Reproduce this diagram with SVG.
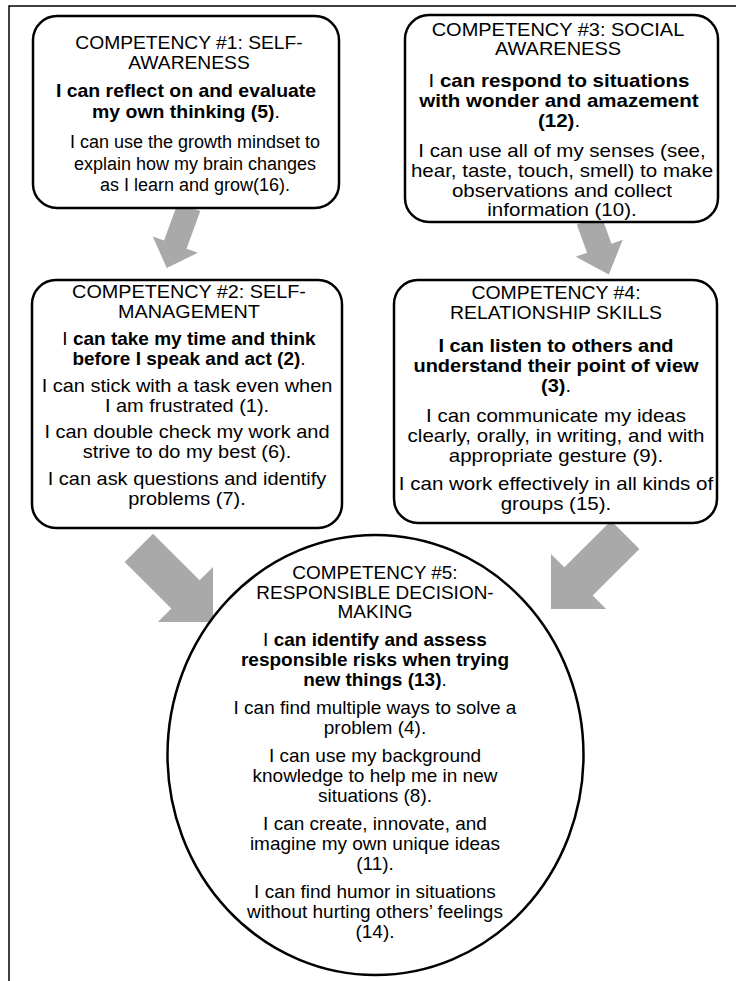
<svg xmlns="http://www.w3.org/2000/svg" width="736" height="981" viewBox="0 0 736 981">
  <style>
    .frame { fill: none; stroke: #000; stroke-width: 1.5; }
    .box { fill: #fff; stroke: #000; stroke-width: 2.5; }
    .arrow { fill: #a9a9a9; stroke: none; }
    text { font-family: "Liberation Sans", Arial, sans-serif; font-size: 18px; fill: #000; text-anchor: middle; }
    .b { font-weight: bold; }
    .r { font-weight: normal; }
  </style>
  <defs>
    <!-- block arrows, pointing along +x from the origin -->
    <polygon id="arrowSmall" points="0,-12 40,-12 40,-24 65,0 40,24 40,12 0,12"/>
    <polygon id="arrowMid" points="0,-13 30,-13 30,-25 58,0 30,25 30,13 0,13"/>
    <polygon id="arrowBig" points="0,-20 66,-20 66,-39 105,0 66,39 66,20 0,20"/>
  </defs>

  <rect width="736" height="981" fill="#fff"/>
  <path class="frame" d="M9,981 V6 H736"/>

  <g id="connectors">
    <use href="#arrowSmall" class="arrow" transform="translate(189,207) rotate(110)"/>
    <use href="#arrowMid" class="arrow" transform="translate(589,220) rotate(70)"/>
    <use href="#arrowBig" class="arrow" transform="translate(138.8,547.8) rotate(45)"/>
    <use href="#arrowBig" class="arrow" transform="translate(625.2,534.8) rotate(135)"/>
  </g>

  <!-- text blocks are widened about their centre line with matrix(sx,0,0,1,cx*(1-sx),0) -->
  <g id="self-awareness">
    <rect class="box" x="33" y="16" width="306" height="192" rx="24"/>
    <g transform="matrix(1.07,0,0,1,-13.23,0)">
      <text x="189" y="49">COMPETENCY #1: SELF-</text>
      <text x="189" y="69">AWARENESS</text>
    </g>
    <g transform="matrix(1.08,0,0,1,-14.88,0)">
      <text class="b" x="186" y="97">I can reflect on and evaluate</text>
      <text class="b" x="186" y="118">my own thinking (5)<tspan class="r">.</tspan></text>
    </g>
    <text x="195" y="148">I can use the growth mindset to</text>
    <text x="195" y="170">explain how my brain changes</text>
    <text x="195" y="191">as I learn and grow(16).</text>
  </g>

  <g id="social-awareness">
    <rect class="box" x="405" y="15" width="313" height="207" rx="24"/>
    <g transform="matrix(1.11,0,0,1,-61.38,0)">
      <text x="558" y="36">COMPETENCY #3: SOCIAL</text>
      <text x="558" y="55">AWARENESS</text>
    </g>
    <g transform="matrix(1.14,0,0,1,-78.26,0)">
      <text class="b" x="559" y="87"><tspan class="r">I </tspan>can respond to situations</text>
      <text class="b" x="559" y="107">with wonder and amazement</text>
      <text class="b" x="559" y="127">(12)<tspan class="r">.</tspan></text>
    </g>
    <g transform="matrix(1.14,0,0,1,-78.68,0)">
      <text x="562" y="157">I can use all of my senses (see,</text>
      <text x="562" y="177">hear, taste, touch, smell) to make</text>
      <text x="562" y="197">observations and collect</text>
      <text x="562" y="216">information (10).</text>
    </g>
  </g>

  <g id="self-management">
    <rect class="box" x="32" y="280" width="310" height="248" rx="24"/>
    <g transform="matrix(1.1,0,0,1,-18.9,0)">
      <text x="189" y="298">COMPETENCY #2: SELF-</text>
      <text x="189" y="318">MANAGEMENT</text>
    </g>
    <g transform="matrix(1.055,0,0,1,-10.4,0)">
      <text class="b" x="189" y="345"><tspan class="r">I </tspan>can take my time and think</text>
      <text class="b" x="189" y="365">before I speak and act (2)<tspan class="r">.</tspan></text>
    </g>
    <g transform="matrix(1.11,0,0,1,-20.57,0)">
      <text x="187" y="392">I can stick with a task even when</text>
      <text x="187" y="412">I am frustrated (1).</text>
      <text x="187" y="438">I can double check my work and</text>
      <text x="187" y="458">strive to do my best (6).</text>
      <text x="187" y="485">I can ask questions and identify</text>
      <text x="187" y="505">problems (7).</text>
    </g>
  </g>

  <g id="relationship-skills">
    <rect class="box" x="394" y="280" width="323" height="243" rx="24"/>
    <g transform="matrix(1.08,0,0,1,-44.48,0)">
      <text x="556" y="299">COMPETENCY #4:</text>
      <text x="556" y="319">RELATIONSHIP SKILLS</text>
    </g>
    <g transform="matrix(1.11,0,0,1,-61.16,0)">
      <text class="b" x="556" y="352">I can listen to others and</text>
      <text class="b" x="556" y="372">understand their point of view</text>
      <text class="b" x="556" y="392">(3)<tspan class="r">.</tspan></text>
    </g>
    <g transform="matrix(1.14,0,0,1,-77.84,0)">
      <text x="556" y="422">I can communicate my ideas</text>
      <text x="556" y="442">clearly, orally, in writing, and with</text>
      <text x="556" y="462">appropriate gesture (9).</text>
      <text x="556" y="490">I can work effectively in all kinds of</text>
      <text x="556" y="510">groups (15).</text>
    </g>
  </g>

  <g id="responsible-decision-making">
    <ellipse class="box" cx="375.5" cy="755" rx="208" ry="220"/>
    <g transform="matrix(1.055,0,0,1,-20.63,0)">
      <text x="375" y="579">COMPETENCY #5:</text>
      <text x="375" y="599">RESPONSIBLE DECISION-</text>
      <text x="375" y="618">MAKING</text>
      <text class="b" x="375" y="646"><tspan class="r">I </tspan>can identify and assess</text>
      <text class="b" x="375" y="666">responsible risks when trying</text>
      <text class="b" x="375" y="686">new things (13)<tspan class="r">.</tspan></text>
      <text x="375" y="714">I can find multiple ways to solve a</text>
      <text x="375" y="734">problem (4).</text>
      <text x="375" y="762">I can use my background</text>
      <text x="375" y="782">knowledge to help me in new</text>
      <text x="375" y="802">situations (8).</text>
      <text x="375" y="830">I can create, innovate, and</text>
      <text x="375" y="850">imagine my own unique ideas</text>
      <text x="375" y="870">(11).</text>
      <text x="375" y="898">I can find humor in situations</text>
      <text x="375" y="918">without hurting others’ feelings</text>
      <text x="375" y="938">(14).</text>
    </g>
  </g>
</svg>
